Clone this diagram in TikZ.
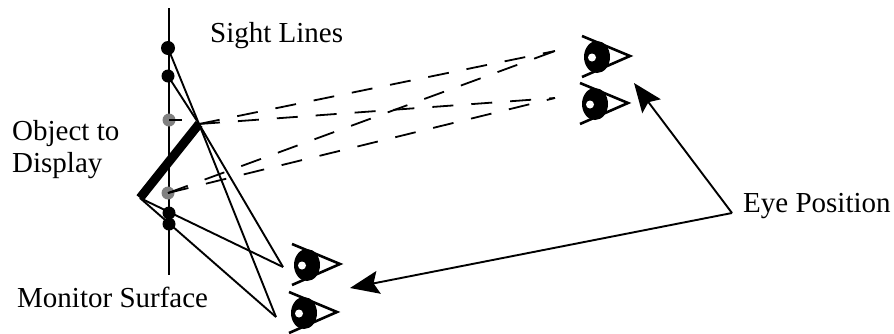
\documentclass[tikz,border=0pt]{standalone}
\usepackage{fontspec}
\setmainfont{Liberation Serif}
\usetikzlibrary{arrows.meta}
\tikzset{
  thinline/.style={line width=1.9pt,black},
  sight/.style={line width=1.8pt,black,dash pattern=on 21pt off 18pt},
  pointer/.style={line width=1.9pt,black,-{Stealth[length=29pt,width=23pt,inset=5pt]}},
  label/.style={anchor=base west,inner sep=0pt,font=\fontsize{29}{30}\selectfont},
  solid dot/.style={circle,fill=black,inner sep=0pt,minimum size=14pt},
  gray dot/.style={circle,fill=black!50,inner sep=0pt,minimum size=13pt},
  eye/.pic={
    \fill[black] (-33,1) ellipse [x radius=13,y radius=16];
    \fill[white] (-38,1.5) circle [radius=4];
    \draw[line width=2.6pt,line join=miter] (-48,-20) -- (0,0) -- (-48,21);
  }
}
\begin{document}
\begin{tikzpicture}[x=1pt,y=-1pt]
\useasboundingbox (0,0) rectangle (894,333);
% monitor
\coordinate (montop) at (169,8);
\coordinate (monbot) at (169,275);
\draw[line width=2.2pt] (montop) -- (monbot);
% object
\coordinate (objtop) at (199,124);
\coordinate (objbot) at (140,198);
% eyes
\pic at (630,56) {eye};
\pic at (628,103) {eye};
\pic at (340,264) {eye};
\pic at (337,312) {eye};
\coordinate (eyeA) at (555,51);
\coordinate (eyeB) at (555,98);
\coordinate (eyeC) at (283,267);
\coordinate (eyeD) at (276,317);
% monitor dots
\node[solid dot] (d1) at (168,48) {};
\node[solid dot,minimum size=13pt] (d2) at (168,76) {};
\node[gray dot] (g1) at (169,120) {};
\node[gray dot] (g2) at (168,193) {};
\node[solid dot,minimum size=13pt] (d3) at (169,213) {};
\node[solid dot,minimum size=13pt] (d4) at (169,224) {};
% solid sight lines
\draw[thinline] (d1.center) -- (objtop) -- (eyeD);
\draw[thinline] (d2.center) -- (objtop) -- (eyeC);
\draw[thinline] (objbot) -- (eyeC);
\draw[thinline] (objbot) -- (eyeD);
% dashed sight lines
\draw[sight] (objtop) -- (eyeA);
\draw[sight] (objtop) -- (eyeB);
\draw[sight] (g2.center) -- (eyeA);
\draw[sight] (g2.center) -- (eyeB);
\coordinate (g1end) at (182,120);
\draw[thinline] (g1.center) -- (g1end);
% object bar
\draw[line width=9pt,line cap=butt] (objbot) -- (objtop);
% labels
\node[label] (sl) at (210,42) {Sight Lines};
\node[label] (ob) at (12,140) {Object to};
\node[label] (di) at (12,172) {Display};
\node[label] (ms) at (17,307) {Monitor Surface};
\node[label] (ep) at (743,212) {Eye Position};
% pointers
\coordinate (fork) at (732,213);
\coordinate (tipA) at (634,83);
\coordinate (tipB) at (350,288);
\draw[pointer] (fork) -- (tipA);
\draw[pointer] (fork) -- (tipB);
\end{tikzpicture}
\end{document}
